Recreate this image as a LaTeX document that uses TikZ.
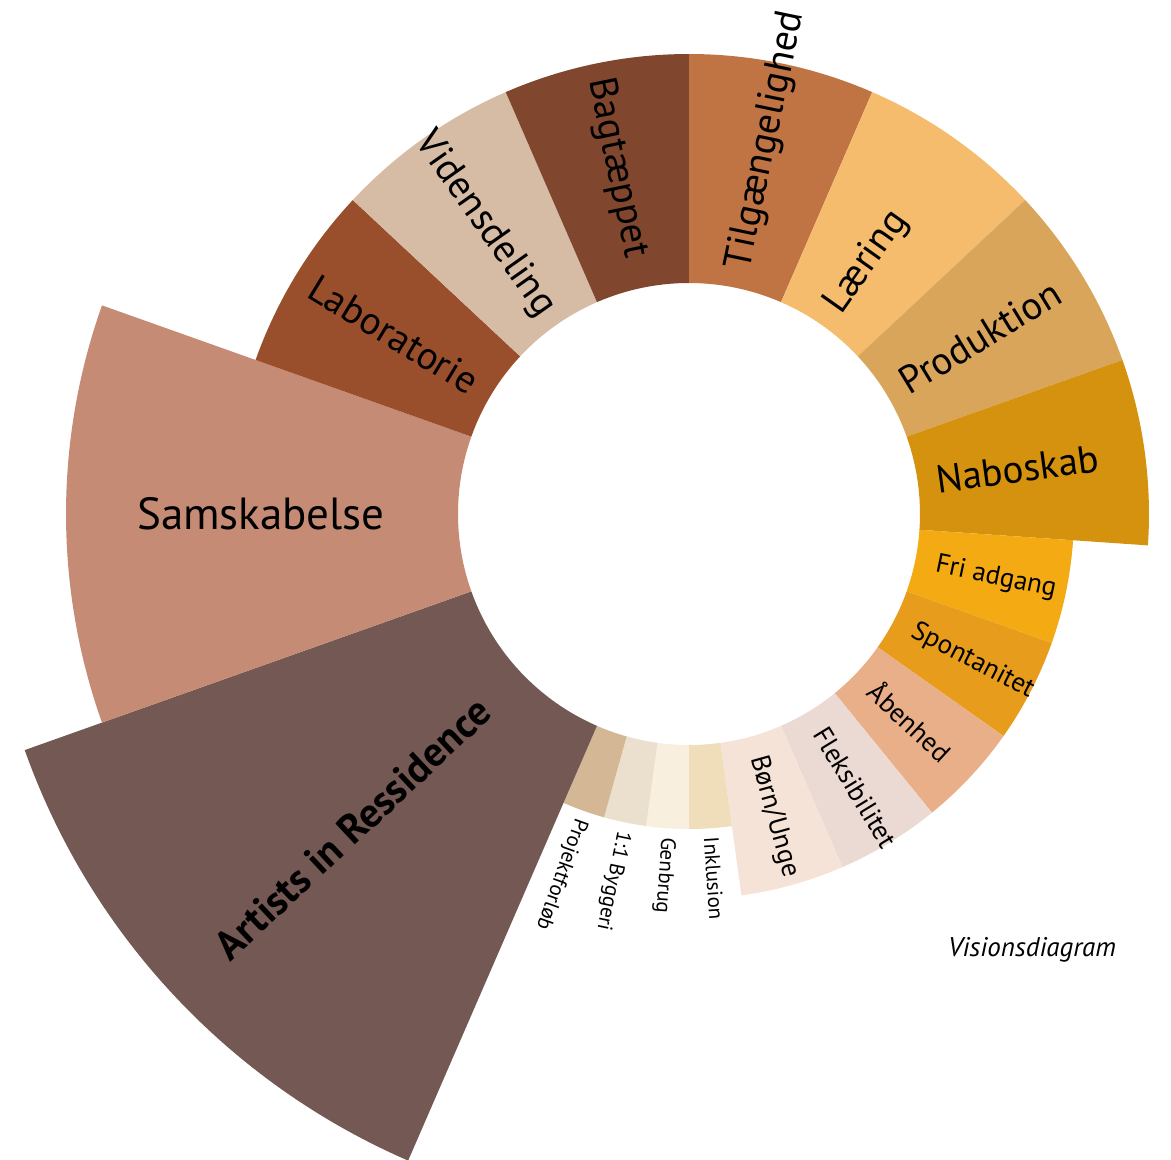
\documentclass[tikz,border=0pt]{standalone}
\usepackage{fontspec}
\setmainfont{PT Sans}
\usetikzlibrary{positioning}

\definecolor{cTilg}{HTML}{C07443}
\definecolor{cLaer}{HTML}{F4BC6C}
\definecolor{cProd}{HTML}{D9A55B}
\definecolor{cNabo}{HTML}{D5920E}
\definecolor{cFri}{HTML}{F4AA12}
\definecolor{cSpon}{HTML}{E89C1C}
\definecolor{cAaben}{HTML}{E8AF88}
\definecolor{cFleks}{HTML}{EBD9D4}
\definecolor{cBoern}{HTML}{F6E3D8}
\definecolor{cInkl}{HTML}{F0DDB9}
\definecolor{cGenb}{HTML}{F8EFDF}
\definecolor{cByg}{HTML}{EAE0CD}
\definecolor{cProj}{HTML}{D4B896}
\definecolor{cArt}{HTML}{735853}
\definecolor{cSams}{HTML}{C68B74}
\definecolor{cLab}{HTML}{9A4F2C}
\definecolor{cVid}{HTML}{D6BBA5}
\definecolor{cBag}{HTML}{80472E}

\tikzset{
  biglabel/.style={inner sep=0pt, font=\fontsize{39}{41}\selectfont},
  midlabel/.style={inner sep=0pt, font=\fontsize{27}{29}\selectfont},
  smalllabel/.style={inner sep=0pt, font=\fontsize{21}{23}\selectfont},
}

\begin{document}
\begin{tikzpicture}[x=1pt, y=1pt]
  \useasboundingbox (-689,-646) rectangle (482,514);
  \pgfmathsetmacro{\slice}{360/46}
  % rose segments: start unit / end unit / outer radius / colour
  \foreach \s/\e/\r/\c in {0/3/460/cTilg, 3/6/460/cLaer, 6/9/460/cProd, 9/12/460/cNabo,
      12/14/385/cFri, 14/16/385/cSpon, 16/18/385/cAaben, 18/20/385/cFleks, 20/22/385/cBoern,
      22/23/315/cInkl, 23/24/315/cGenb, 24/25/315/cByg, 25/26/315/cProj,
      26/32/705/cArt, 32/37/623/cSams, 37/40/460/cLab, 40/43/460/cVid, 43/46/460/cBag} {
    \pgfmathsetmacro{\aa}{90-\s*\slice}
    \pgfmathsetmacro{\ab}{90-\e*\slice}
    \fill[\c] (\aa:231) arc[start angle=\aa, end angle=\ab, radius=231]
      -- (\ab:\r) arc[start angle=\ab, end angle=\aa, radius=\r] -- cycle;
  }
  % labels reading outwards
  \foreach \m/\txt [count=\i] in {1.5/Tilgængelighed, 4.5/Læring, 7.5/Produktion, 10.5/Naboskab}
    \node[biglabel, anchor=west, rotate={90-\m*\slice}] (big\i) at ({90-\m*\slice}:250) {\txt};
  \foreach \m/\txt [count=\i] in {13/Fri adgang, 15/Spontanitet, 17/Åbenhed, 19/Fleksibilitet, 21/{Børn/Unge}}
    \node[midlabel, anchor=west, rotate={90-\m*\slice}] (mid\i) at ({90-\m*\slice}:252) {\txt};
  \foreach \m/\txt [count=\i] in {22.5/Inklusion, 23.5/Genbrug, 24.5/1:1 Byggeri, 25.5/Projektforløb}
    \node[smalllabel, anchor=west, rotate={90-\m*\slice}] (small\i) at ({90-\m*\slice}:324) {\txt};
  % labels reading inwards
  \foreach \m/\r/\txt [count=\i] in {38.5/250/Laboratorie, 41.5/246/Vidensdeling, 44.5/262/Bagtæppet}
    \node[biglabel, anchor=east, rotate={270-\m*\slice}] (left\i) at ({90-\m*\slice}:\r) {\txt};
  \node[inner sep=0pt, anchor=east, font=\fontsize{45}{47}\selectfont] (sams) at (180:304) {Samskabelse};
  \node[inner sep=0pt, anchor=east, rotate={270-29*\slice}, font=\bfseries\fontsize{41}{43}\selectfont]
    (artists) at ({90-29*\slice}:280) {Artists in Ressidence};
  \node[font=\itshape\fontsize{27}{29}\selectfont] (caption) at (343,-436) {Visionsdiagram};
\end{tikzpicture}
\end{document}
